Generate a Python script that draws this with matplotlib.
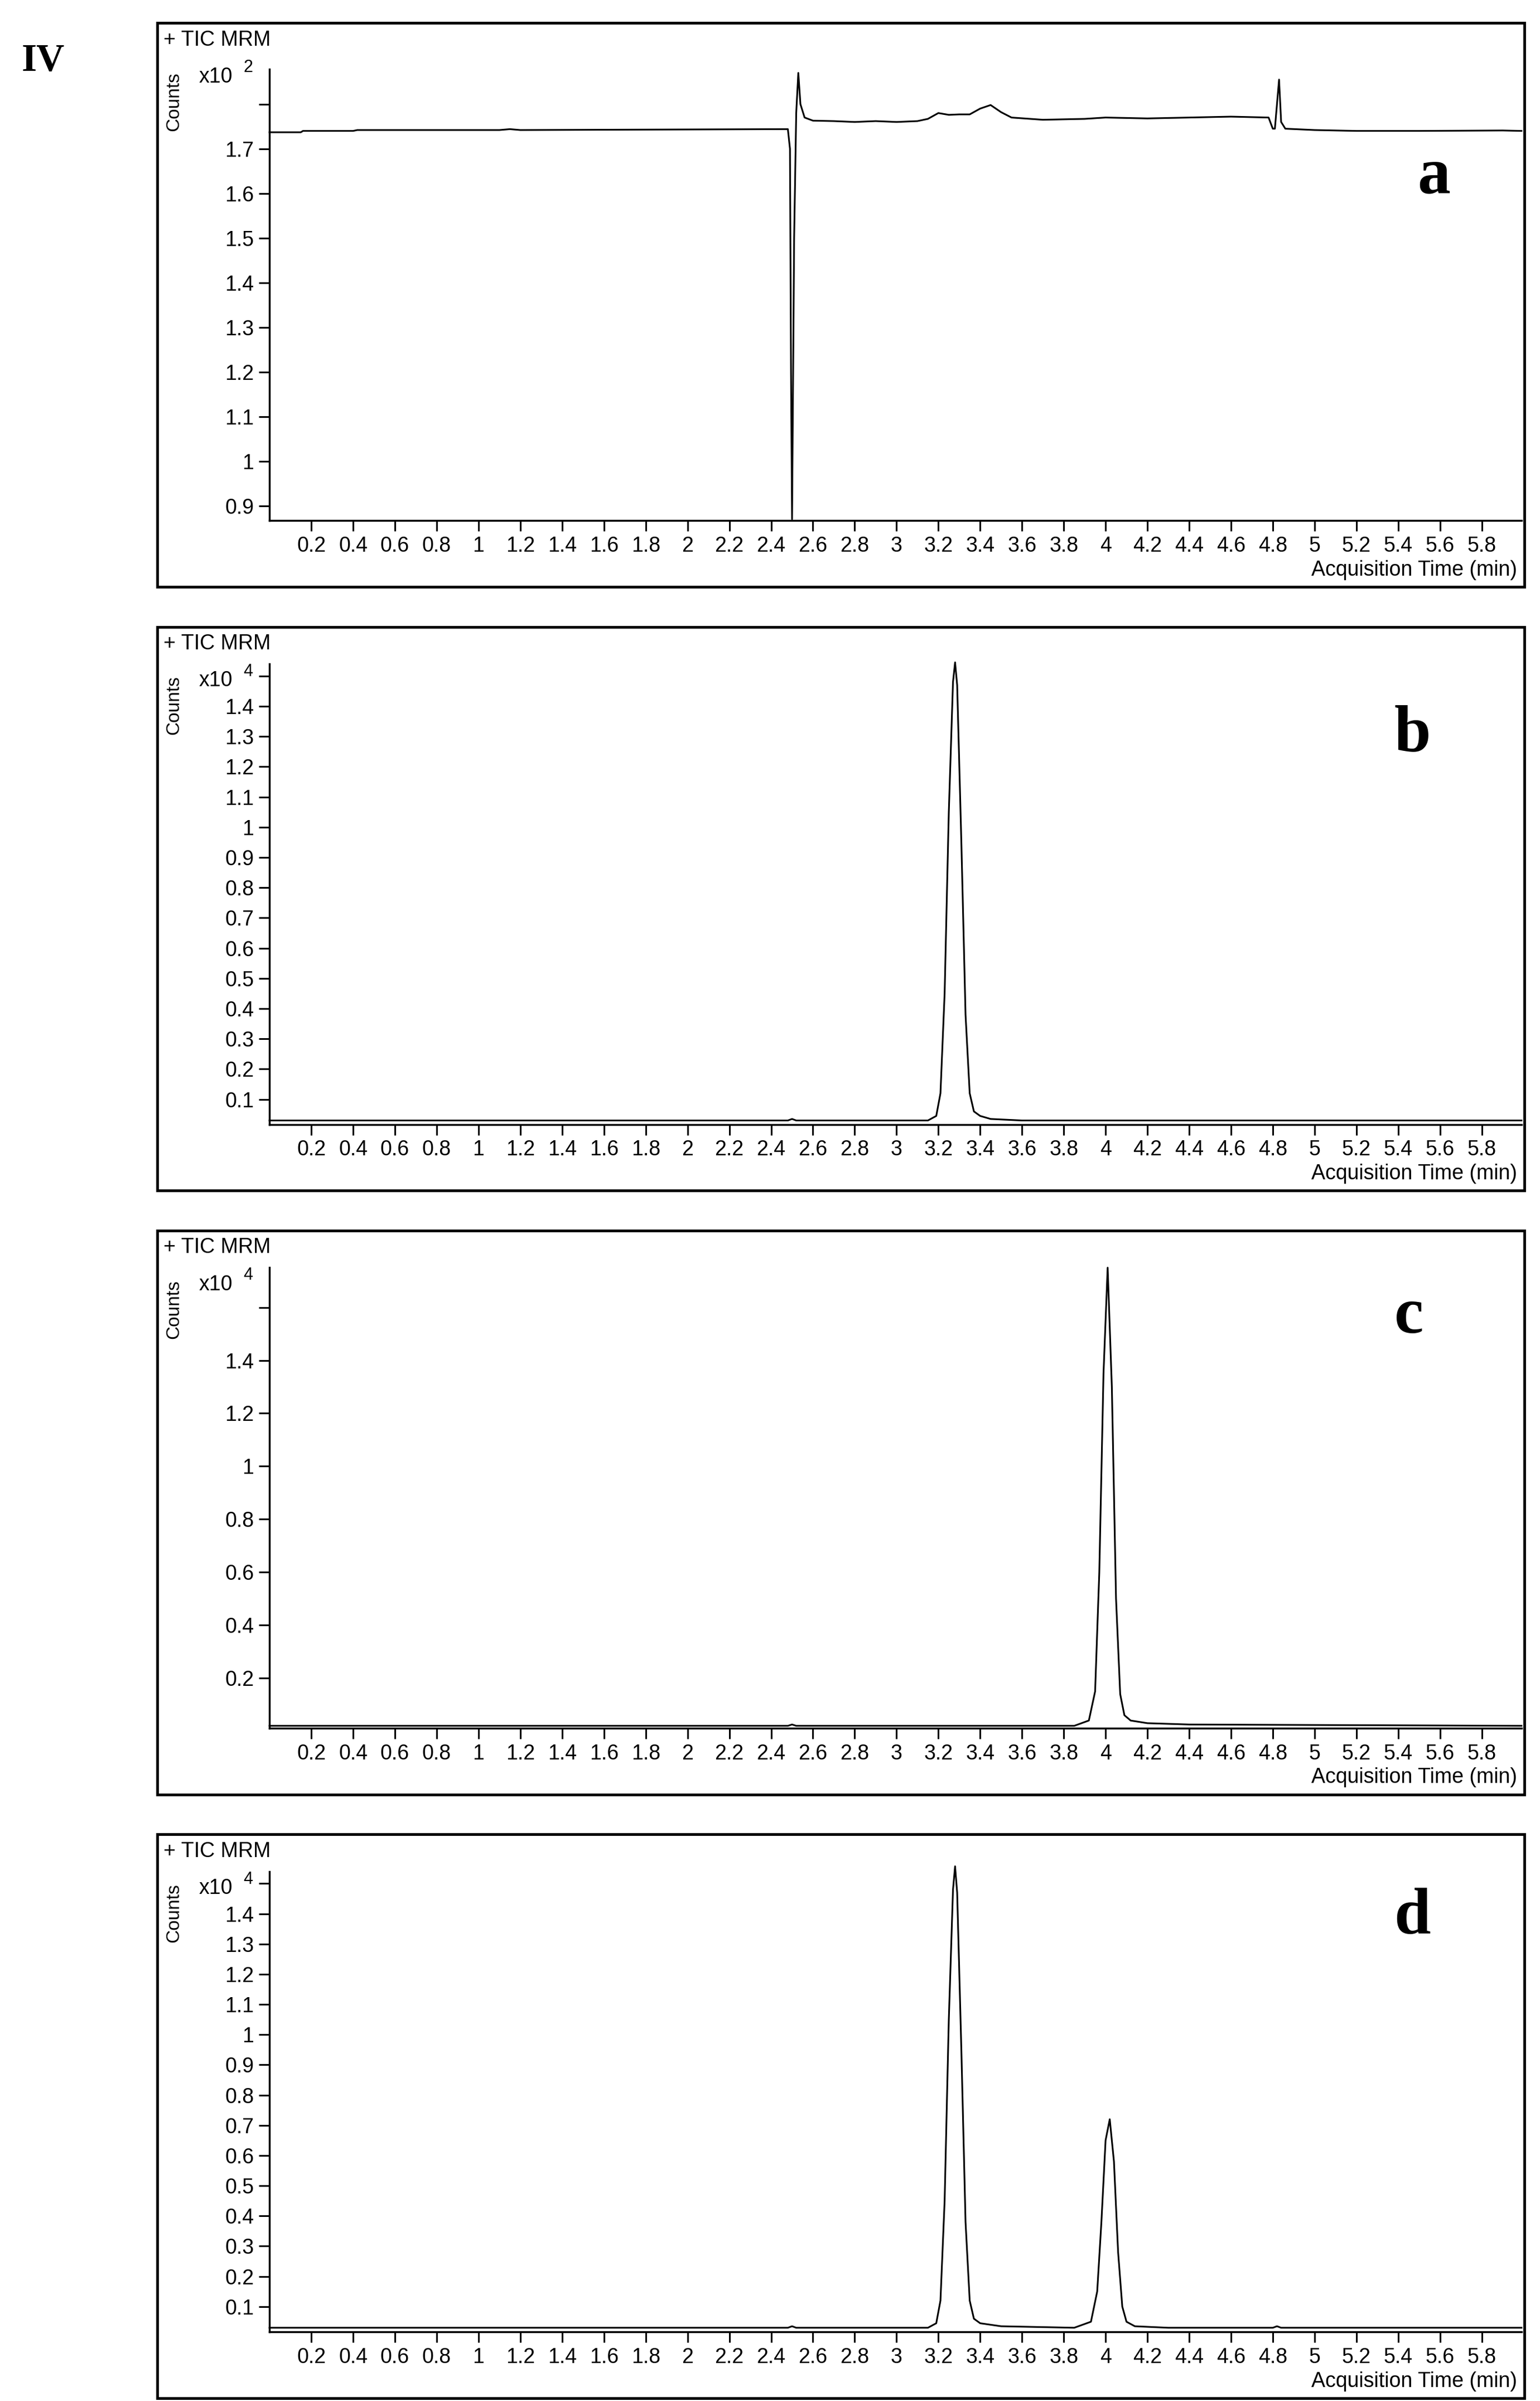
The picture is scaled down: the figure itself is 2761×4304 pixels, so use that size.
import matplotlib.pyplot as plt
import matplotlib.patches as patches

plt.rcParams['font.family'] = ['Liberation Sans', 'DejaVu Sans']

# ---- data (time in min, counts scaled) ----
time_a = [0.0, 0.15, 0.16, 0.4, 0.42, 1.1, 1.15, 1.2, 2.46, 2.48, 2.49, 2.495, 2.50, 2.51, 2.52, 2.53, 2.54, 2.56,
          2.6, 2.7, 2.8, 2.9, 3.0, 3.1, 3.15, 3.2, 3.25, 3.3, 3.35, 3.4, 3.45, 3.5, 3.55, 3.7, 3.9, 4.0, 4.2, 4.4,
          4.6, 4.78, 4.8, 4.81, 4.82, 4.83, 4.84, 4.86, 5.0, 5.2, 5.5, 5.9, 5.99]
counts_a = [1.737, 1.737, 1.740, 1.740, 1.742, 1.742, 1.744, 1.742, 1.744, 1.744, 1.70, 1.2, 0.87, 1.5, 1.78, 1.87,
            1.80, 1.770, 1.763, 1.762, 1.760, 1.762, 1.760, 1.762, 1.767, 1.780, 1.776, 1.777, 1.777, 1.790, 1.798,
            1.782, 1.770, 1.765, 1.767, 1.770, 1.768, 1.770, 1.772, 1.770, 1.745, 1.745, 1.80, 1.855, 1.760, 1.745,
            1.742, 1.740, 1.740, 1.741, 1.740]

time_b = [0.0, 2.48, 2.5, 2.52, 3.15, 3.19, 3.21, 3.23, 3.25, 3.27, 3.28, 3.29, 3.31, 3.33, 3.35, 3.37, 3.40,
          3.45, 3.6, 5.99]
counts_b = [0.03, 0.03, 0.035, 0.03, 0.03, 0.045, 0.12, 0.45, 1.05, 1.48, 1.545, 1.47, 0.95, 0.38, 0.12, 0.06,
            0.045, 0.035, 0.03, 0.03]

time_c = [0.0, 2.48, 2.5, 2.52, 3.85, 3.92, 3.95, 3.97, 3.99, 4.01, 4.03, 4.05, 4.07, 4.09, 4.12, 4.2, 4.4, 5.99]
counts_c = [0.02, 0.02, 0.025, 0.02, 0.02, 0.04, 0.15, 0.6, 1.35, 1.75, 1.3, 0.5, 0.14, 0.06, 0.04, 0.03, 0.025,
            0.02]

time_d = [0.0, 2.48, 2.5, 2.52, 3.15, 3.19, 3.21, 3.23, 3.25, 3.27, 3.28, 3.29, 3.31, 3.33, 3.35, 3.37, 3.40,
          3.5, 3.85, 3.93, 3.96, 3.98, 4.00, 4.02, 4.04, 4.06, 4.08, 4.10, 4.14, 4.3, 4.8, 4.82, 4.84, 5.99]
counts_d = [0.03, 0.03, 0.035, 0.03, 0.03, 0.045, 0.12, 0.45, 1.05, 1.48, 1.557, 1.47, 0.95, 0.38, 0.12, 0.06,
            0.045, 0.035, 0.03, 0.05, 0.15, 0.38, 0.65, 0.72, 0.58, 0.28, 0.1, 0.05, 0.035, 0.03, 0.03, 0.035,
            0.03, 0.03]

x_ticks = [0.2, 0.4, 0.6, 0.8, 1, 1.2, 1.4, 1.6, 1.8, 2, 2.2, 2.4, 2.6, 2.8, 3, 3.2, 3.4, 3.6, 3.8, 4, 4.2,
           4.4, 4.6, 4.8, 5, 5.2, 5.4, 5.6, 5.8]
y_ticks_a = [0.9, 1, 1.1, 1.2, 1.3, 1.4, 1.5, 1.6, 1.7, 1.8]
y_ticks_b = [0.1, 0.2, 0.3, 0.4, 0.5, 0.6, 0.7, 0.8, 0.9, 1, 1.1, 1.2, 1.3, 1.4, 1.5]
y_ticks_c = [0.2, 0.4, 0.6, 0.8, 1, 1.2, 1.4, 1.6]
y_ticks_d = y_ticks_b
exponents = ['2', '4', '4', '4']
letters = ['a', 'b', 'c', 'd']

panels = [
    (time_a, counts_a, y_ticks_a, (0.867, 1.878)),
    (time_b, counts_b, y_ticks_b, (0.017, 1.54)),
    (time_c, counts_c, y_ticks_c, (0.011, 1.75)),
    (time_d, counts_d, y_ticks_d, (0.016, 1.54)),
]
box_tops = [15, 407, 799, 1191]
letter_x = [931, 917, 915, 917]
letter_y = [115, 477, 855, 1245]

W, H = 1000.0, 1558.8  # overview pixel frame
fig = plt.figure(figsize=(27.61, 43.04), dpi=100)

def fx(x):
    return x / W

def fy(y):
    return 1 - y / H

fig.text(fx(14), fy(40), 'IV', family='Liberation Serif', weight='bold', fontsize=50, va='center')

for i, (t, c, yt, yl) in enumerate(panels):
    top = box_tops[i]
    fig.patches.append(patches.Rectangle((fx(102), fy(top + 366)), fx(990) - fx(102), fy(top) - fy(top + 366),
                                         transform=fig.transFigure, fill=False, lw=3.5, ec='black'))
    ax_top = top + (30 if i == 0 else 24)
    ax_bot = top + 323
    ax = fig.add_axes([fx(175), fy(ax_bot), fx(988) - fx(175), fy(ax_top) - fy(ax_bot)])
    ax.plot(t, c, color='black', lw=2.2, clip_on=False)
    ax.set_xlim(0, 5.99)
    ax.set_ylim(*yl)
    ax.spines['top'].set_visible(False)
    ax.spines['right'].set_visible(False)
    ax.spines['left'].set_linewidth(2.5)
    ax.spines['bottom'].set_linewidth(2.5)
    ax.set_xticks(x_ticks)
    ax.set_xticklabels([f'{v:g}' for v in x_ticks])
    ax.set_yticks(yt)
    labs = [f'{v:g}' for v in yt]
    labs[-1] = '' if yt[-1] in (1.8, 1.5, 1.6) else labs[-1]
    ax.set_yticklabels(labs)
    ax.tick_params(length=14, width=2.2, labelsize=27, pad=6)
    fig.text(fx(106), fy(top + 11), '+ TIC MRM', fontsize=27, va='center')
    fig.text(fx(113), fy(top + 51), 'Counts', fontsize=24, rotation=90, va='center', ha='center')
    fig.text(fx(129), fy(top + 35), 'x10', fontsize=27, va='center')
    fig.text(fx(158), fy(top + 29), exponents[i], fontsize=22, va='center')
    fig.text(fx(985), fy(top + 355), 'Acquisition Time (min)', fontsize=27, ha='right', va='center')
    fig.text(fx(letter_x[i]), fy(letter_y[i]), letters[i], family='Liberation Serif', weight='bold',
             fontsize=85, ha='center', va='center')

fig.savefig('out.png', dpi=100)
